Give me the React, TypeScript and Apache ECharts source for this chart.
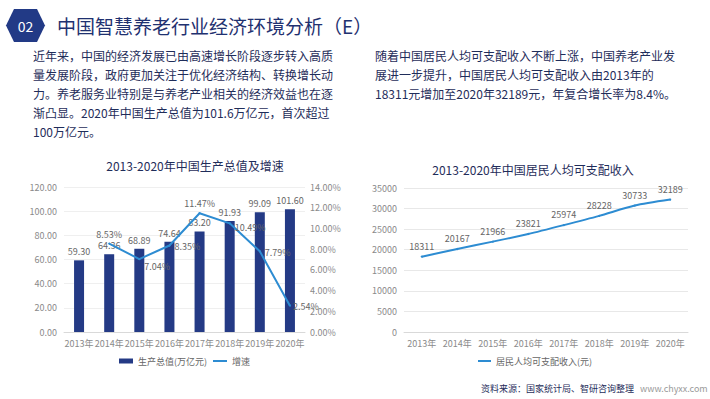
import React, { useEffect, useRef } from "react";
import * as echarts from "echarts";

const years = ["2013年", "2014年", "2015年", "2016年", "2017年", "2018年", "2019年", "2020年"];
const gdpValues = [59.3, 64.36, 68.89, 74.64, 83.2, 91.93, 99.09, 101.6];
const growthValues: (number | null)[] = [null, 8.53, 7.04, 8.35, 11.47, 10.49, 7.79, 2.54];
const incomeValues = [18311, 20167, 21966, 23821, 25974, 28228, 30733, 32189];

const gdpName = "生产总值(万亿元)";
const growthName = "增速";
const incomeName = "居民人均可支配收入(元)";

const mainTitle = "中国智慧养老行业经济环境分析（E）";
const leftChartTitle = "2013-2020年中国生产总值及增速";
const rightChartTitle = "2013-2020年中国居民人均可支配收入";
const leftParagraph = [
  "近年来，中国的经济发展已由高速增长阶段逐步转入高质",
  "量发展阶段，政府更加关注于优化经济结构、转换增长动",
  "力。养老服务业特别是与养老产业相关的经济效益也在逐",
  "渐凸显。2020年中国生产总值为101.6万亿元，首次超过",
  "100万亿元。",
];
const rightParagraph = [
  "随着中国居民人均可支配收入不断上涨，中国养老产业发",
  "展进一步提升，中国居民人均可支配收入由2013年的",
  "18311元增加至2020年32189元，年复合增长率为8.4%。",
];
const sourceText = "资料来源：国家统计局、智研咨询整理";
const siteText = "www.chyxx.com";

// label placement styling for the growth line (per point)
const growthLabelPos = ["top", "top", "right", "right", "top", "right", "right", "right"];
const growthLabelOffset = [[0, 0], [0, 0], [0, 7], [0, 1], [0, 0], [0, 4], [0, 1], [-2, 1]];

const FONT = "'Noto Sans CJK SC', 'Noto Sans', sans-serif";
const NAVY = "#1f2d5a";
const BAR = "#243a85";
const LINE = "#2d8cd2";
const LABEL = "#666666";
const AXIS_LABEL = "#8a8a8a";

export default function App() {
  const ref = useRef<HTMLDivElement>(null);

  useEffect(() => {
    if (!ref.current) return;
    const chart = echarts.init(ref.current, undefined, { renderer: "svg" });

    const legendText = { fontSize: 9, color: LABEL, lineHeight: 12, fontFamily: FONT };
    const xLabel = { color: AXIS_LABEL, fontSize: 9, margin: 7, fontFamily: FONT, interval: 0 };

    const option: any = {
      animation: false,
      backgroundColor: "#ffffff",
      textStyle: { fontFamily: FONT },
      grid: [
        { left: 64, right: 405, top: 187, bottom: 67 },
        { left: 404, right: 22, top: 188, bottom: 67 },
      ],
      legend: [
        {
          data: [{ name: gdpName, icon: "rect" }],
          left: 119,
          top: 355,
          padding: 0,
          itemWidth: 14,
          itemHeight: 5,
          textStyle: legendText,
        },
        {
          data: [{ name: growthName, icon: "rect" }],
          left: 213,
          top: 355,
          padding: 0,
          itemWidth: 14,
          itemHeight: 2,
          textStyle: legendText,
        },
        {
          data: [{ name: incomeName, icon: "rect" }],
          left: 478,
          top: 355,
          padding: 0,
          itemWidth: 13,
          itemHeight: 2,
          textStyle: legendText,
        },
      ],
      xAxis: [
        {
          type: "category",
          gridIndex: 0,
          data: years,
          axisTick: { show: false },
          axisLine: { lineStyle: { color: "#d9d9d9" } },
          axisLabel: xLabel,
        },
        {
          type: "category",
          gridIndex: 1,
          data: years,
          axisTick: { show: false },
          axisLine: { lineStyle: { color: "#d9d9d9" } },
          axisLabel: xLabel,
        },
      ],
      yAxis: [
        {
          type: "value",
          gridIndex: 0,
          min: 0,
          max: 120,
          interval: 20,
          axisLine: { show: false },
          axisTick: { show: false },
          splitLine: { lineStyle: { color: "#efefef" } },
          axisLabel: {
            color: AXIS_LABEL,
            fontSize: 9,
            margin: 7,
            fontFamily: FONT,
            formatter: (v: number) => v.toFixed(2),
          },
        },
        {
          type: "value",
          gridIndex: 0,
          position: "right",
          min: 0,
          max: 14,
          interval: 2,
          axisLine: { show: false },
          axisTick: { show: false },
          splitLine: { show: false },
          axisLabel: {
            color: AXIS_LABEL,
            fontSize: 9,
            margin: 5,
            fontFamily: FONT,
            formatter: (v: number) => v.toFixed(2) + "%",
          },
        },
        {
          type: "value",
          gridIndex: 1,
          min: 0,
          max: 35000,
          interval: 5000,
          axisLine: { show: false },
          axisTick: { show: false },
          splitLine: { lineStyle: { color: "#e8e8e8" } },
          axisLabel: {
            color: AXIS_LABEL,
            fontSize: 9,
            margin: 7,
            fontFamily: FONT,
            formatter: (v: number) => String(v),
          },
        },
      ],
      series: [
        {
          name: gdpName,
          type: "bar",
          xAxisIndex: 0,
          yAxisIndex: 0,
          data: gdpValues,
          barWidth: 10,
          itemStyle: { color: BAR },
          label: {
            show: true,
            position: "top",
            distance: 4,
            color: LABEL,
            fontSize: 9,
            fontFamily: FONT,
            formatter: (p: any) => Number(p.value).toFixed(2),
          },
        },
        {
          name: growthName,
          type: "line",
          xAxisIndex: 0,
          yAxisIndex: 1,
          data: growthValues.map((v, i) =>
            v == null
              ? "-"
              : {
                  value: v,
                  label: { position: growthLabelPos[i], offset: growthLabelOffset[i] },
                }
          ),
          symbol: "circle",
          symbolSize: 2,
          lineStyle: { color: LINE, width: 2 },
          itemStyle: { color: LINE },
          label: {
            show: true,
            color: LABEL,
            fontSize: 9,
            fontFamily: FONT,
            distance: 4,
            formatter: (p: any) => Number(p.value).toFixed(2) + "%",
          },
        },
        {
          name: incomeName,
          type: "line",
          xAxisIndex: 1,
          yAxisIndex: 2,
          data: incomeValues,
          smooth: 0.25,
          symbol: "circle",
          symbolSize: 2,
          lineStyle: { color: LINE, width: 2 },
          itemStyle: { color: LINE },
          label: {
            show: true,
            position: "top",
            distance: 5,
            color: LABEL,
            fontSize: 9,
            fontFamily: FONT,
          },
        },
      ],
      graphic: [
        {
          type: "polygon",
          shape: {
            points: [
              [6, 25.5],
              [14, 9],
              [37, 9],
              [45, 25.5],
              [37, 42],
              [14, 42],
            ],
          },
          style: { fill: "#223a86" },
        },
        {
          type: "text",
          x: 25.5,
          y: 25.5,
          style: {
            text: "02",
            fill: "#ffffff",
            font: `14px ${FONT}`,
            align: "center",
            verticalAlign: "middle",
          },
        },
        {
          type: "text",
          x: 57,
          y: 25,
          style: {
            text: mainTitle,
            fill: "#1f3170",
            font: `19px ${FONT}`,
            align: "left",
            verticalAlign: "middle",
          },
        },
        {
          type: "text",
          x: 33,
          y: 46.5,
          style: {
            text: leftParagraph.join("\n"),
            fill: NAVY,
            font: `12px ${FONT}`,
            lineHeight: 18.8,
            align: "left",
            verticalAlign: "top",
          },
        },
        {
          type: "text",
          x: 375,
          y: 46.5,
          style: {
            text: rightParagraph.join("\n"),
            fill: NAVY,
            font: `12px ${FONT}`,
            lineHeight: 18.8,
            align: "left",
            verticalAlign: "top",
          },
        },
        {
          type: "text",
          x: 195,
          y: 165,
          style: {
            text: leftChartTitle,
            fill: NAVY,
            font: `12px ${FONT}`,
            align: "center",
            verticalAlign: "middle",
          },
        },
        {
          type: "text",
          x: 533,
          y: 169,
          style: {
            text: rightChartTitle,
            fill: NAVY,
            font: `12px ${FONT}`,
            align: "center",
            verticalAlign: "middle",
          },
        },
        {
          type: "text",
          x: 481,
          y: 388,
          style: {
            text: sourceText,
            fill: NAVY,
            font: `9px ${FONT}`,
            align: "left",
            verticalAlign: "middle",
          },
        },
        {
          type: "text",
          x: 640,
          y: 388,
          style: {
            text: siteText,
            fill: "#9a9a9a",
            font: `9px ${FONT}`,
            align: "left",
            verticalAlign: "middle",
          },
        },
      ],
    };

    chart.setOption(option);
    return () => chart.dispose();
  }, []);

  return (
    <div
      ref={ref}
      style={{ position: "fixed", left: 0, top: 0, width: 710, height: 399, background: "#ffffff" }}
    />
  );
}
